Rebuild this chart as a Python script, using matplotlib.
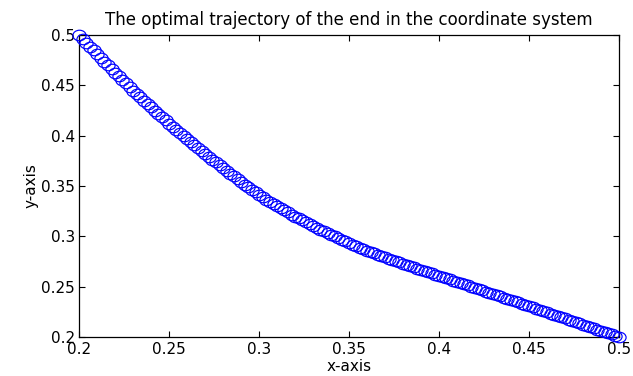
import matplotlib
matplotlib.use("Agg")
import matplotlib.pyplot as plt
from matplotlib.path import Path
from matplotlib.transforms import Affine2D

# trajectory points
x_pts = [0.200, 0.202, 0.204, 0.206, 0.208, 0.210, 0.212, 0.214, 0.216, 0.218,
         0.220, 0.222, 0.224, 0.226, 0.228, 0.230, 0.232, 0.234, 0.236, 0.238,
         0.240, 0.242, 0.244, 0.246, 0.248, 0.250, 0.252, 0.254, 0.256, 0.258,
         0.260, 0.262, 0.264, 0.266, 0.268, 0.270, 0.272, 0.274, 0.276, 0.278,
         0.280, 0.282, 0.284, 0.286, 0.288, 0.290, 0.292, 0.294, 0.296, 0.298,
         0.300, 0.302, 0.304, 0.306, 0.308, 0.310, 0.312, 0.314, 0.316, 0.318,
         0.320, 0.322, 0.324, 0.326, 0.328, 0.330, 0.332, 0.334, 0.336, 0.338,
         0.340, 0.342, 0.344, 0.346, 0.348, 0.350, 0.352, 0.354, 0.356, 0.358,
         0.360, 0.362, 0.364, 0.366, 0.368, 0.370, 0.372, 0.374, 0.376, 0.378,
         0.380, 0.382, 0.384, 0.386, 0.388, 0.390, 0.392, 0.394, 0.396, 0.398,
         0.400, 0.402, 0.404, 0.406, 0.408, 0.410, 0.412, 0.414, 0.416, 0.418,
         0.420, 0.422, 0.424, 0.426, 0.428, 0.430, 0.432, 0.434, 0.436, 0.438,
         0.440, 0.442, 0.444, 0.446, 0.448, 0.450, 0.452, 0.454, 0.456, 0.458,
         0.460, 0.462, 0.464, 0.466, 0.468, 0.470, 0.472, 0.474, 0.476, 0.478,
         0.480, 0.482, 0.484, 0.486, 0.488, 0.490, 0.492, 0.494, 0.496, 0.498,
         0.500]
y_pts = [0.5000, 0.4962, 0.4923, 0.4885, 0.4846, 0.4808, 0.4771, 0.4734, 0.4698, 0.4661,
         0.4624, 0.4589, 0.4554, 0.4518, 0.4483, 0.4448, 0.4414, 0.4381, 0.4347, 0.4314,
         0.4280, 0.4248, 0.4216, 0.4184, 0.4152, 0.4120, 0.4089, 0.4058, 0.4028, 0.3997,
         0.3966, 0.3936, 0.3907, 0.3877, 0.3848, 0.3818, 0.3790, 0.3761, 0.3733, 0.3704,
         0.3676, 0.3649, 0.3622, 0.3594, 0.3567, 0.3540, 0.3514, 0.3488, 0.3462, 0.3436,
         0.3410, 0.3388, 0.3365, 0.3343, 0.3320, 0.3298, 0.3278, 0.3257, 0.3237, 0.3216,
         0.3196, 0.3177, 0.3158, 0.3140, 0.3121, 0.3102, 0.3084, 0.3067, 0.3049, 0.3032,
         0.3014, 0.2998, 0.2981, 0.2965, 0.2948, 0.2932, 0.2917, 0.2902, 0.2888, 0.2873,
         0.2858, 0.2844, 0.2831, 0.2817, 0.2804, 0.2790, 0.2777, 0.2765, 0.2752, 0.2740,
         0.2727, 0.2715, 0.2703, 0.2690, 0.2678, 0.2666, 0.2654, 0.2642, 0.2631, 0.2619,
         0.2607, 0.2595, 0.2583, 0.2571, 0.2559, 0.2547, 0.2535, 0.2523, 0.2511, 0.2499,
         0.2487, 0.2475, 0.2463, 0.2451, 0.2439, 0.2427, 0.2415, 0.2403, 0.2390, 0.2378,
         0.2366, 0.2354, 0.2342, 0.2329, 0.2317, 0.2305, 0.2293, 0.2281, 0.2268, 0.2256,
         0.2244, 0.2232, 0.2220, 0.2207, 0.2195, 0.2183, 0.2171, 0.2159, 0.2146, 0.2134,
         0.2122, 0.2110, 0.2098, 0.2085, 0.2073, 0.2061, 0.2049, 0.2037, 0.2024, 0.2012,
         0.2000]

x_ticks = [0.2, 0.25, 0.3, 0.35, 0.4, 0.45, 0.5]
x_labels = ['0.2', '0.25', '0.3', '0.35', '0.4', '0.45', '0.5']
y_ticks = [0.2, 0.25, 0.3, 0.35, 0.4, 0.45, 0.5]
y_labels = ['0.2', '0.25', '0.3', '0.35', '0.4', '0.45', '0.5']

plt.rcParams['font.family'] = ['DejaVu Sans']

fig = plt.figure(figsize=(6.33, 3.76), dpi=100)
ax = fig.add_axes([0.125, 0.104, 0.853, 0.803])

# the reference image is a bit stretched sideways, so the circles are wide ellipses
ring = Path.unit_circle().transformed(Affine2D().scale(1.25, 1.0))
ax.plot(x_pts, y_pts, linestyle='none', marker=ring, color='blue',
        markerfacecolor='none', markersize=9.5, markeredgewidth=0.85,
        clip_on=False, zorder=3)

ax.set_xlim(0.2, 0.5)
ax.set_ylim(0.2, 0.5)
ax.set_xticks(x_ticks)
ax.set_xticklabels(x_labels)
ax.set_yticks(y_ticks)
ax.set_yticklabels(y_labels)
ax.tick_params(direction='in', length=4, width=0.8, top=True, right=True,
               labelsize=11, colors='black')
ax.tick_params(axis='x', pad=4)
ax.tick_params(axis='y', pad=3)
for s in ax.spines.values():
    s.set_linewidth(0.9)

ax.set_title('The optimal trajectory of the end in the coordinate system',
             fontsize=12, pad=7)
ax.set_xlabel('x-axis', fontsize=11, labelpad=1)
ax.set_ylabel('y-axis', fontsize=11, labelpad=2)

fig.savefig('out.png', dpi=100)
